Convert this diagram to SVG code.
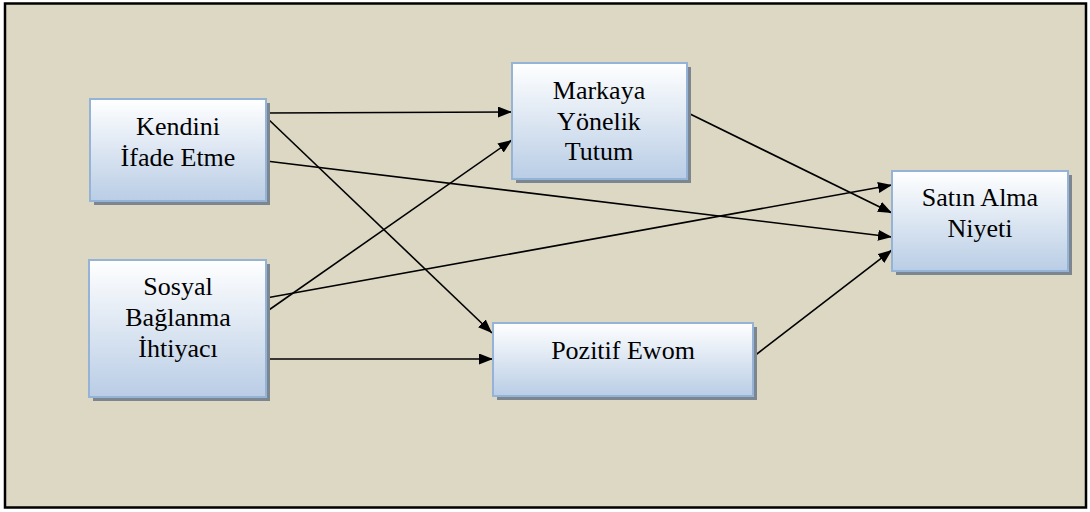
<svg xmlns="http://www.w3.org/2000/svg" width="1090" height="512" viewBox="0 0 1090 512">
  <defs>
    <linearGradient id="boxFill" x1="0" y1="0" x2="0" y2="1">
      <stop offset="0" stop-color="#ffffff"/>
      <stop offset="1" stop-color="#b9cde5"/>
    </linearGradient>
    <marker id="arrow" viewBox="0 0 14 11" refX="14" refY="5.5" markerWidth="14" markerHeight="11" markerUnits="userSpaceOnUse" orient="auto">
      <path d="M0,0 L14,5.5 L0,11 Z" fill="#000"/>
    </marker>
    <style>
      .shadow { fill: #7c8690; }
      .box { fill: url(#boxFill); stroke: #95b3d7; stroke-width: 2; }
      .label { font-family: 'Liberation Serif', 'Times New Roman', serif; font-size: 26px; fill: #000; text-anchor: middle; }
      .edge { stroke: #000; stroke-width: 1.6; fill: none; marker-end: url(#arrow); }
    </style>
  </defs>

  <!-- page background and frame -->
  <rect x="5" y="3.5" width="1081" height="504" fill="#ddd8c3" stroke="#000" stroke-width="2.5"/>

  <!-- connectors -->
  <g id="connectors">
    <line class="edge" x1="266" y1="113" x2="512" y2="112"/>
    <line class="edge" x1="266" y1="117" x2="492" y2="333"/>
    <line class="edge" x1="266" y1="161" x2="892" y2="237"/>
    <line class="edge" x1="266" y1="298" x2="892" y2="185"/>
    <line class="edge" x1="266" y1="312" x2="512" y2="140"/>
    <line class="edge" x1="266" y1="359" x2="493" y2="359"/>
    <line class="edge" x1="686" y1="112" x2="892" y2="213"/>
    <line class="edge" x1="753" y1="357" x2="892" y2="250"/>
  </g>

  <!-- nodes -->
  <g id="kendini">
    <rect class="shadow" x="94" y="103" width="176" height="102"/>
    <rect class="box" x="90" y="99" width="176" height="102"/>
    <text class="label" x="178" y="135">Kendini</text>
    <text class="label" x="178" y="166">İfade Etme</text>
  </g>

  <g id="sosyal">
    <rect class="shadow" x="93" y="264" width="177" height="137"/>
    <rect class="box" x="89" y="260" width="177" height="137"/>
    <text class="label" x="178" y="295">Sosyal</text>
    <text class="label" x="178" y="326">Bağlanma</text>
    <text class="label" x="178" y="357">İhtiyacı</text>
  </g>

  <g id="markaya">
    <rect class="shadow" x="516" y="67" width="175" height="116"/>
    <rect class="box" x="512" y="63" width="175" height="116"/>
    <text class="label" x="599" y="99">Markaya</text>
    <text class="label" x="599" y="130">Yönelik</text>
    <text class="label" x="599" y="160">Tutum</text>
  </g>

  <g id="pozitif">
    <rect class="shadow" x="497" y="327" width="260" height="73"/>
    <rect class="box" x="493" y="323" width="260" height="73"/>
    <text class="label" x="623" y="359">Pozitif Ewom</text>
  </g>

  <g id="satin">
    <rect class="shadow" x="896" y="175" width="176" height="100"/>
    <rect class="box" x="892" y="171" width="176" height="100"/>
    <text class="label" x="980" y="206">Satın Alma</text>
    <text class="label" x="980" y="237">Niyeti</text>
  </g>
</svg>
